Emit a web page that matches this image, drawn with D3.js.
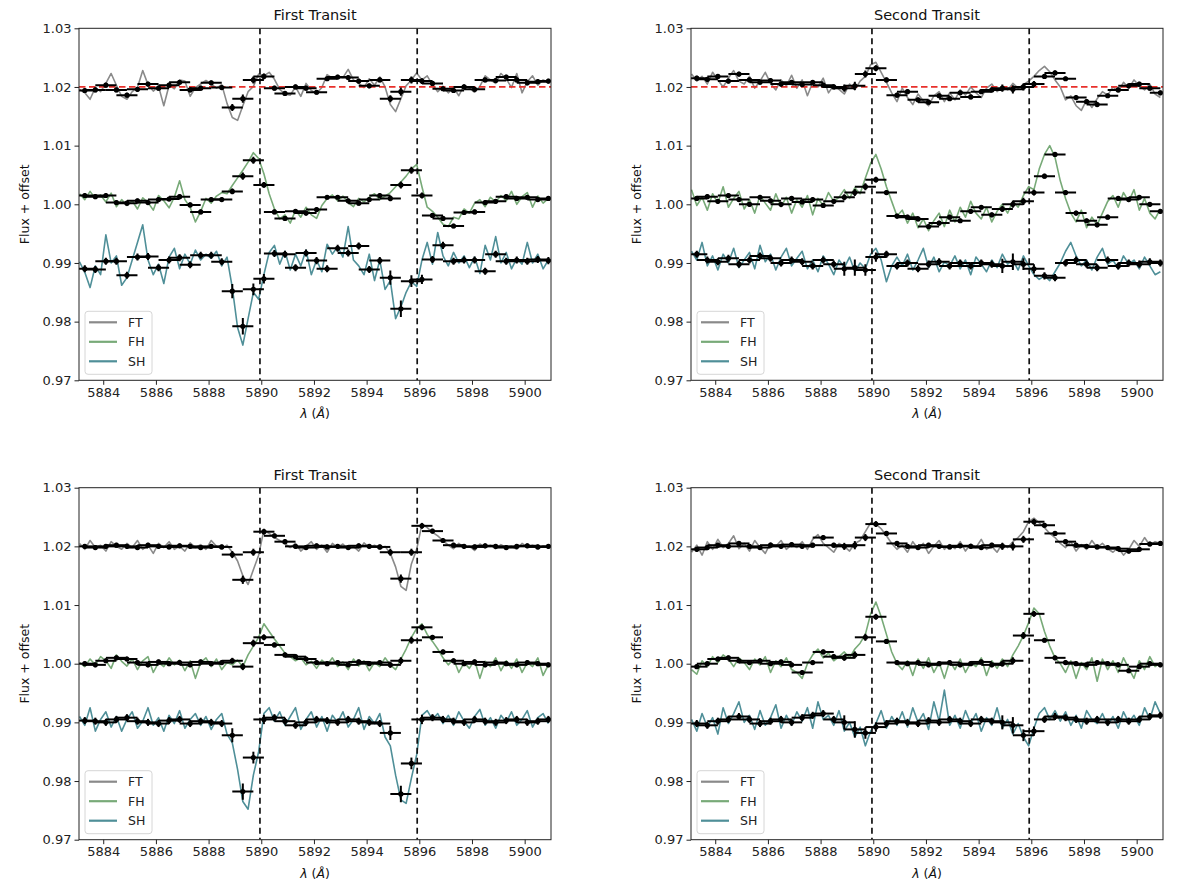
<!DOCTYPE html>
<html><head><meta charset="utf-8">
<script src="https://cdn.jsdelivr.net/npm/d3@7"></script>
<style>body{margin:0;background:#fff}svg{display:block;font-family:"DejaVu Sans",sans-serif}</style>
</head><body><svg id="c" width="1179" height="885"></svg>
<script>
// ---------- data ----------
const seriesNames = ["FT", "FH", "SH"];
const panelTitles = ["First Transit", "Second Transit", "First Transit", "Second Transit"];
const xTicks = [5884, 5886, 5888, 5890, 5892, 5894, 5896, 5898, 5900];
const yTicks = [0.97, 0.98, 0.99, 1.00, 1.01, 1.02, 1.03];
const naLines = [5889.95, 5895.92];
const refLevel = 1.02;
const specStart = 5883.1, specStep = 0.2;   // spectrum sampling grid
const binStart = 5883.3, binStep = 0.4, binHalf = 0.4;

// Panel 1: First Transit (top)
const p1FT = [1.0196,1.0190,1.0179,1.0199,1.0192,1.0206,1.0223,1.0203,1.0184,1.0179,
1.0192,1.0199,1.0228,1.0204,1.0193,1.0201,1.0168,1.0203,1.0197,1.0212,
1.0210,1.0184,1.0199,1.0205,1.0211,1.0205,1.0198,1.0204,1.0172,1.0148,
1.0143,1.0168,1.0192,1.0201,1.0222,1.0219,1.0225,1.0213,1.0196,1.0188,
1.0186,1.0200,1.0184,1.0206,1.0194,1.0189,1.0199,1.0221,1.0215,1.0218,
1.0216,1.0230,1.0212,1.0206,1.0199,1.0214,1.0203,1.0217,1.0200,1.0170,
1.0158,1.0180,1.0202,1.0212,1.0224,1.0212,1.0219,1.0204,1.0192,1.0201,
1.0190,1.0199,1.0185,1.0203,1.0198,1.0191,1.0201,1.0219,1.0212,1.0206,
1.0223,1.0214,1.0199,1.0223,1.0190,1.0209,1.0219,1.0203,1.0212,1.0208];
const p1FH = [1.0018,1.0008,1.0022,1.0010,1.0016,1.0004,1.0019,0.9996,1.0008,0.9998,
1.0006,0.9992,1.0011,1.0003,0.9990,1.0015,1.0006,0.9994,1.0012,1.0040,
1.0008,0.9995,0.9970,0.9988,1.0010,1.0002,1.0014,1.0020,1.0018,1.0032,
1.0045,1.0058,1.0072,1.0088,1.0078,1.0052,1.0018,0.9992,0.9975,0.9982,
0.9968,0.9990,0.9978,0.9995,0.9982,0.9976,0.9998,1.0010,1.0016,1.0006,
1.0014,1.0003,0.9996,1.0010,1.0004,1.0012,1.0018,1.0008,1.0014,1.0020,
1.0030,1.0038,1.0048,1.0060,1.0068,1.0030,0.9995,0.9988,0.9978,0.9966,
0.9962,0.9978,0.9975,0.9992,0.9985,1.0002,1.0008,0.9996,1.0012,1.0004,
1.0015,1.0006,1.0022,1.0000,1.0013,1.0020,0.9995,1.0014,1.0002,1.0010];
const p1SH = [0.9902,0.9884,0.9858,0.9895,0.9880,0.9948,0.9900,0.9912,0.9862,0.9875,
0.9905,0.9935,0.9965,0.9905,0.9880,0.9898,0.9865,0.9910,0.9925,0.9890,
0.9915,0.9898,0.9922,0.9905,0.9915,0.9908,0.9920,0.9895,0.9910,0.9858,
0.9790,0.9760,0.9805,0.9850,0.9838,0.9880,0.9918,0.9930,0.9898,0.9920,
0.9888,0.9915,0.9895,0.9922,0.9880,0.9905,0.9885,0.9932,0.9915,0.9928,
0.9910,0.9962,0.9905,0.9895,0.9880,0.9915,0.9870,0.9905,0.9855,0.9870,
0.9805,0.9825,0.9850,0.9868,0.9860,0.9905,0.9935,0.9898,0.9952,0.9912,
0.9895,0.9918,0.9900,0.9912,0.9892,0.9910,0.9882,0.9930,0.9905,0.9945,
0.9900,0.9918,0.9890,0.9908,0.9898,0.9935,0.9900,0.9915,0.9890,0.9905];
const p1FTbin = [1.0194,1.0195,1.0203,1.0195,1.0186,1.0196,1.0205,1.0198,1.0203,1.0208,
1.0195,1.0198,1.0207,1.0199,1.0165,1.0180,1.0212,1.0218,1.0198,1.0189,
1.0200,1.0198,1.0191,1.0214,1.0217,1.0216,1.0210,1.0202,1.0212,1.0180,
1.0192,1.0212,1.0210,1.0206,1.0197,1.0194,1.0200,1.0196,1.0212,1.0211,
1.0217,1.0212,1.0207,1.0209,1.0210];
const p1FHbin = [1.0015,1.0013,1.0015,1.0003,1.0002,1.0006,1.0003,1.0008,1.0009,1.0013,
0.9999,0.9987,1.0008,1.0008,1.0022,1.0048,1.0075,1.0033,0.9987,0.9976,
0.9988,0.9985,0.9991,1.0012,1.0012,1.0006,1.0002,1.0008,1.0015,1.0010,
1.0033,1.0058,1.0015,0.9981,0.9976,0.9963,0.9986,0.9987,1.0003,1.0005,
1.0013,1.0010,1.0012,1.0008,1.0010];
const p1SHbin = [0.9890,0.9889,0.9903,0.9903,0.9879,0.9910,0.9911,0.9892,0.9905,0.9909,
0.9897,0.9913,0.9913,0.9902,0.9852,0.9792,0.9855,0.9873,0.9916,0.9915,
0.9892,0.9917,0.9904,0.9890,0.9925,0.9917,0.9929,0.9889,0.9904,0.9875,
0.9822,0.9869,0.9872,0.9906,0.9930,0.9903,0.9905,0.9905,0.9886,0.9915,
0.9903,0.9905,0.9903,0.9906,0.9904];

// Panel 2: Second Transit (top)
const p2FT = [1.0222,1.0210,1.0218,1.0205,1.0225,1.0212,1.0200,1.0215,1.0228,1.0210,
1.0205,1.0218,1.0198,1.0210,1.0225,1.0206,1.0195,1.0212,1.0202,1.0220,
1.0198,1.0212,1.0185,1.0208,1.0200,1.0215,1.0190,1.0203,1.0196,1.0188,
1.0205,1.0195,1.0210,1.0218,1.0238,1.0242,1.0225,1.0208,1.0190,1.0175,
1.0198,1.0182,1.0170,1.0188,1.0176,1.0168,1.0185,1.0192,1.0175,1.0190,
1.0178,1.0195,1.0186,1.0200,1.0190,1.0182,1.0198,1.0205,1.0192,1.0200,
1.0195,1.0206,1.0198,1.0204,1.0210,1.0218,1.0228,1.0235,1.0226,1.0212,
1.0200,1.0178,1.0185,1.0168,1.0160,1.0178,1.0165,1.0180,1.0192,1.0186,
1.0200,1.0192,1.0208,1.0198,1.0212,1.0202,1.0195,1.0205,1.0188,1.0182];
const p2FH = [1.0025,0.9998,1.0012,0.9990,1.0018,1.0002,1.0030,0.9995,1.0010,1.0022,
0.9992,1.0008,0.9985,1.0015,1.0002,0.9990,1.0018,0.9996,1.0012,0.9985,
1.0008,0.9995,1.0015,0.9982,1.0010,0.9998,1.0020,1.0005,1.0012,1.0025,
1.0010,1.0028,1.0018,1.0045,1.0070,1.0085,1.0060,1.0030,1.0005,0.9980,
0.9990,0.9968,0.9985,0.9960,0.9975,0.9955,0.9972,0.9985,0.9962,0.9990,
0.9970,0.9995,0.9978,1.0005,0.9985,0.9975,0.9995,0.9970,0.9988,1.0000,
0.9985,1.0005,0.9995,1.0015,1.0030,1.0025,1.0060,1.0085,1.0100,1.0080,
1.0040,1.0010,0.9985,0.9970,0.9990,0.9960,0.9978,0.9965,0.9985,1.0005,
1.0015,0.9995,1.0020,1.0005,1.0025,0.9990,1.0010,0.9985,0.9975,0.9992];
const p2SH = [0.9920,0.9905,0.9935,0.9895,0.9912,0.9888,0.9915,0.9900,0.9925,0.9892,
0.9905,0.9918,0.9890,0.9930,0.9902,0.9915,0.9888,0.9910,0.9925,0.9895,
0.9908,0.9920,0.9890,0.9905,0.9885,0.9912,0.9898,0.9880,0.9905,0.9892,
0.9910,0.9885,0.9900,0.9890,0.9915,0.9925,0.9905,0.9868,0.9895,0.9910,
0.9895,0.9915,0.9888,0.9905,0.9925,0.9892,0.9910,0.9885,0.9902,0.9895,
0.9912,0.9890,0.9905,0.9880,0.9910,0.9898,0.9885,0.9905,0.9892,0.9915,
0.9898,0.9905,0.9888,0.9912,0.9895,0.9880,0.9872,0.9878,0.9870,0.9885,
0.9900,0.9920,0.9935,0.9912,0.9895,0.9905,0.9888,0.9910,0.9925,0.9898,
0.9905,0.9890,0.9912,0.9898,0.9905,0.9890,0.9910,0.9895,0.9880,0.9885];
const p2FTbin = [1.0215,1.0213,1.0218,1.0210,1.0222,1.0212,1.0208,1.0211,1.0205,1.0208,
1.0204,1.0208,1.0203,1.0200,1.0198,1.0202,1.0222,1.0232,1.0212,1.0186,
1.0192,1.0178,1.0174,1.0185,1.0180,1.0190,1.0183,1.0192,1.0195,1.0198,
1.0196,1.0200,1.0205,1.0218,1.0224,1.0214,1.0182,1.0175,1.0170,1.0185,
1.0195,1.0202,1.0205,1.0198,1.0190];
const p2FHbin = [1.0010,1.0013,1.0005,1.0015,1.0008,1.0000,1.0012,1.0006,1.0000,1.0010,
1.0004,1.0008,0.9998,1.0005,1.0012,1.0020,1.0030,1.0042,1.0020,0.9980,
0.9978,0.9975,0.9962,0.9968,0.9978,0.9972,0.9988,0.9995,0.9982,0.9992,
1.0000,1.0005,1.0020,1.0048,1.0085,1.0020,0.9985,0.9972,0.9965,0.9978,
1.0010,1.0008,1.0012,1.0000,0.9988];
const p2SHbin = [0.9915,0.9905,0.9902,0.9908,0.9898,0.9905,0.9912,0.9908,0.9900,0.9905,
0.9902,0.9895,0.9905,0.9898,0.9890,0.9892,0.9888,0.9910,0.9915,0.9895,
0.9900,0.9890,0.9898,0.9902,0.9895,0.9900,0.9895,0.9900,0.9898,0.9895,
0.9902,0.9898,0.9890,0.9878,0.9875,0.9900,0.9905,0.9898,0.9892,0.9905,
0.9895,0.9900,0.9898,0.9902,0.9900];

// Panel 3: First Transit (bottom)
const p3FT = [1.0205,1.0195,1.0210,1.0198,1.0202,1.0192,1.0208,1.0200,1.0195,1.0205,
1.0198,1.0210,1.0195,1.0202,1.0188,1.0205,1.0198,1.0208,1.0195,1.0200,
1.0192,1.0206,1.0198,1.0203,1.0195,1.0210,1.0200,1.0196,1.0202,1.0190,
1.0175,1.0150,1.0135,1.0160,1.0185,1.0228,1.0222,1.0215,1.0210,1.0204,
1.0198,1.0205,1.0192,1.0200,1.0208,1.0195,1.0202,1.0190,1.0205,1.0198,
1.0204,1.0195,1.0200,1.0192,1.0206,1.0198,1.0202,1.0195,1.0200,1.0188,
1.0165,1.0132,1.0125,1.0170,1.0195,1.0238,1.0232,1.0224,1.0218,1.0210,
1.0202,1.0196,1.0205,1.0198,1.0200,1.0193,1.0204,1.0198,1.0202,1.0196,
1.0203,1.0198,1.0200,1.0195,1.0205,1.0199,1.0202,1.0196,1.0201,1.0200];
const p3FH = [1.0002,0.9995,1.0008,0.9998,1.0012,1.0005,0.9992,1.0015,1.0004,0.9996,
1.0008,0.9990,1.0005,1.0012,0.9985,1.0002,0.9995,1.0010,0.9998,1.0006,
0.9988,1.0005,0.9975,1.0002,1.0010,0.9995,1.0008,0.9990,1.0002,0.9998,
1.0006,0.9995,1.0015,1.0030,1.0045,1.0068,1.0055,1.0042,1.0030,1.0018,
1.0012,1.0005,1.0010,0.9998,1.0004,0.9992,1.0006,0.9998,1.0010,0.9995,
1.0003,0.9990,1.0008,0.9996,1.0005,0.9988,1.0002,0.9995,1.0010,0.9998,
0.9990,1.0008,1.0025,1.0045,1.0060,1.0068,1.0050,1.0038,1.0025,1.0010,
0.9998,1.0008,0.9985,1.0002,0.9992,1.0006,0.9975,1.0004,0.9995,1.0010,
0.9988,1.0005,0.9992,1.0008,0.9985,1.0002,0.9995,1.0010,0.9980,0.9998];
const p3SH = [0.9910,0.9895,0.9925,0.9885,0.9905,0.9918,0.9892,0.9910,0.9885,0.9905,
0.9918,0.9890,0.9902,0.9925,0.9895,0.9908,0.9885,0.9912,0.9898,0.9920,
0.9890,0.9905,0.9915,0.9895,0.9910,0.9888,0.9905,0.9915,0.9880,0.9865,
0.9820,0.9765,0.9752,0.9810,0.9850,0.9915,0.9925,0.9902,0.9918,0.9895,
0.9910,0.9925,0.9888,0.9905,0.9918,0.9892,0.9910,0.9885,0.9912,0.9900,
0.9918,0.9892,0.9905,0.9925,0.9888,0.9910,0.9898,0.9915,0.9875,0.9860,
0.9810,0.9768,0.9762,0.9805,0.9845,0.9912,0.9920,0.9905,0.9915,0.9898,
0.9912,0.9895,0.9918,0.9902,0.9890,0.9910,0.9922,0.9895,0.9908,0.9890,
0.9912,0.9900,0.9918,0.9895,0.9905,0.9920,0.9892,0.9908,0.9915,0.9898];
const p3FTbin = [1.0200,1.0198,1.0200,1.0202,1.0200,1.0198,1.0202,1.0200,1.0199,1.0201,
1.0200,1.0198,1.0200,1.0199,1.0186,1.0143,1.0190,1.0225,1.0218,1.0208,
1.0200,1.0198,1.0201,1.0199,1.0200,1.0198,1.0201,1.0200,1.0199,1.0190,
1.0145,1.0190,1.0235,1.0226,1.0210,1.0202,1.0200,1.0199,1.0201,1.0200,
1.0198,1.0200,1.0201,1.0199,1.0200];
const p3FHbin = [1.0000,0.9998,1.0005,1.0010,1.0008,1.0002,0.9998,1.0003,1.0000,1.0002,
0.9998,1.0003,1.0000,1.0002,1.0005,0.9995,1.0035,1.0045,1.0032,1.0015,
1.0012,1.0008,1.0002,1.0000,1.0002,0.9998,1.0003,1.0000,1.0002,0.9998,
1.0005,1.0040,1.0062,1.0045,1.0020,1.0005,1.0000,1.0003,0.9998,1.0002,
1.0000,0.9998,1.0002,1.0000,0.9998];
const p3SHbin = [0.9903,0.9902,0.9900,0.9905,0.9908,0.9902,0.9900,0.9898,0.9903,0.9905,
0.9898,0.9902,0.9900,0.9898,0.9878,0.9782,0.9840,0.9905,0.9908,0.9902,
0.9895,0.9900,0.9905,0.9903,0.9900,0.9905,0.9902,0.9900,0.9898,0.9882,
0.9778,0.9830,0.9905,0.9908,0.9905,0.9902,0.9900,0.9905,0.9902,0.9900,
0.9903,0.9905,0.9900,0.9902,0.9905];

// Panel 4: Second Transit (bottom)
const p4FT = [1.0190,1.0202,1.0185,1.0208,1.0195,1.0212,1.0198,1.0205,1.0218,1.0196,
1.0205,1.0192,1.0210,1.0198,1.0188,1.0206,1.0200,1.0210,1.0195,1.0203,
1.0198,1.0208,1.0195,1.0212,1.0220,1.0205,1.0198,1.0190,1.0205,1.0200,
1.0192,1.0205,1.0210,1.0225,1.0240,1.0238,1.0230,1.0218,1.0205,1.0195,
1.0202,1.0190,1.0208,1.0196,1.0205,1.0188,1.0200,1.0210,1.0195,1.0203,
1.0196,1.0208,1.0192,1.0204,1.0198,1.0212,1.0195,1.0200,1.0190,1.0205,
1.0198,1.0208,1.0215,1.0225,1.0242,1.0248,1.0240,1.0232,1.0222,1.0215,
1.0205,1.0198,1.0208,1.0192,1.0203,1.0195,1.0210,1.0198,1.0205,1.0196,
1.0190,1.0198,1.0185,1.0195,1.0210,1.0200,1.0215,1.0202,1.0208,1.0205];
const p4FH = [0.9990,0.9982,1.0005,0.9995,1.0012,1.0002,1.0015,1.0008,0.9995,1.0010,
1.0002,0.9990,1.0008,0.9998,1.0012,0.9985,1.0005,0.9995,1.0010,0.9990,
0.9985,0.9975,1.0000,1.0015,1.0025,1.0010,1.0018,1.0005,1.0012,1.0020,
1.0010,1.0025,1.0035,1.0050,1.0085,1.0105,1.0080,1.0050,1.0020,1.0000,
0.9990,1.0005,0.9980,1.0008,0.9992,1.0010,0.9985,1.0002,0.9975,1.0005,
0.9990,1.0008,0.9985,1.0002,0.9995,1.0010,0.9980,1.0005,0.9992,1.0008,
0.9995,1.0015,1.0030,1.0048,1.0070,1.0095,1.0085,1.0055,1.0030,1.0010,
1.0000,0.9985,1.0005,0.9975,1.0002,0.9990,1.0010,0.9970,1.0008,0.9990,
1.0005,0.9985,1.0010,0.9992,0.9975,1.0005,0.9990,1.0012,0.9995,1.0002];
const p4SH = [0.9905,0.9885,0.9915,0.9892,0.9908,0.9880,0.9925,0.9898,0.9915,0.9935,
0.9900,0.9912,0.9888,0.9920,0.9895,0.9908,0.9930,0.9890,0.9912,0.9895,
0.9918,0.9902,0.9925,0.9890,0.9935,0.9905,0.9912,0.9895,0.9920,0.9885,
0.9900,0.9875,0.9892,0.9860,0.9885,0.9898,0.9920,0.9890,0.9910,0.9895,
0.9918,0.9892,0.9925,0.9900,0.9915,0.9888,0.9935,0.9902,0.9955,0.9895,
0.9912,0.9890,0.9920,0.9898,0.9915,0.9885,0.9908,0.9895,0.9925,0.9890,
0.9905,0.9880,0.9898,0.9875,0.9860,0.9890,0.9915,0.9925,0.9905,0.9920,
0.9902,0.9918,0.9895,0.9912,0.9890,0.9920,0.9905,0.9898,0.9915,0.9895,
0.9910,0.9890,0.9918,0.9900,0.9912,0.9895,0.9925,0.9905,0.9935,0.9915];
const p4FTbin = [1.0195,1.0198,1.0202,1.0200,1.0205,1.0200,1.0198,1.0202,1.0200,1.0203,
1.0200,1.0202,1.0215,1.0202,1.0200,1.0202,1.0215,1.0238,1.0222,1.0205,
1.0200,1.0198,1.0202,1.0200,1.0199,1.0201,1.0200,1.0198,1.0202,1.0200,
1.0200,1.0212,1.0242,1.0236,1.0222,1.0208,1.0202,1.0200,1.0199,1.0198,
1.0196,1.0192,1.0195,1.0204,1.0205];
const p4FHbin = [0.9995,1.0000,1.0008,1.0010,1.0005,1.0002,1.0005,1.0000,1.0003,0.9998,
0.9985,1.0002,1.0020,1.0012,1.0010,1.0015,1.0045,1.0080,1.0038,1.0002,
1.0000,1.0002,0.9998,1.0000,1.0002,0.9998,1.0000,1.0003,0.9998,1.0000,
1.0005,1.0048,1.0085,1.0040,1.0010,1.0002,1.0000,0.9998,1.0002,1.0000,
0.9998,0.9988,0.9995,1.0000,0.9998];
const p4SHbin = [0.9898,0.9895,0.9902,0.9905,0.9910,0.9905,0.9898,0.9902,0.9905,0.9900,
0.9908,0.9912,0.9915,0.9905,0.9900,0.9888,0.9882,0.9892,0.9898,0.9902,
0.9900,0.9898,0.9903,0.9900,0.9905,0.9902,0.9898,0.9905,0.9902,0.9900,
0.9895,0.9878,0.9885,0.9905,0.9910,0.9908,0.9905,0.9902,0.9905,0.9900,
0.9905,0.9902,0.9905,0.9910,0.9912];

// typical vertical uncertainties of the binned points
const errFT = [4,4,4,4,4,4,4,4,4,4,4,4,4,4,6,7,6,5,4,4,4,4,4,4,4,4,4,4,4,6,7,6,5,4,4,4,4,4,4,4,4,4,4,4,4].map(v => v * 1e-4);
const errFH = [4,4,4,4,4,4,4,4,4,4,4,4,4,4,5,6,6,5,4,4,4,4,4,4,4,4,4,4,4,5,6,6,5,4,4,4,4,4,4,4,4,4,4,4,4].map(v => v * 1e-4);
const errSH = [6,6,6,6,6,6,6,6,6,6,6,6,6,6,12,14,10,8,6,6,6,6,6,6,6,6,6,6,6,12,14,10,8,6,6,6,6,6,6,6,6,6,6,6,6].map(v => v * 1e-4);

// ---------- layout / style ----------
const colors = { FT: "#8a8a8a", FH: "#78aa78", SH: "#4f8f98" };
const panels = [
  { left: 79, top: 28.3, title: panelTitles[0], red: true, FT: p1FT, FH: p1FH, SH: p1SH, FTb: p1FTbin, FHb: p1FHbin, SHb: p1SHbin },
  { left: 691, top: 28.3, title: panelTitles[1], red: true, FT: p2FT, FH: p2FH, SH: p2SH, FTb: p2FTbin, FHb: p2FHbin, SHb: p2SHbin },
  { left: 79, top: 487.7, title: panelTitles[2], red: false, FT: p3FT, FH: p3FH, SH: p3SH, FTb: p3FTbin, FHb: p3FHbin, SHb: p3SHbin },
  { left: 691, top: 487.7, title: panelTitles[3], red: false, FT: p4FT, FH: p4FH, SH: p4SH, FTb: p4FTbin, FHb: p4FHbin, SHb: p4SHbin }
];
const PW = 472, PH = 352;
const errs = { FT: errFT, FH: errFH, SH: errSH };

const svg = d3.select("#c");
panels.forEach((p, pi) => {
  const g = svg.append("g").attr("transform", `translate(${p.left},${p.top})`);
  const x = d3.scaleLinear().domain([5883.08, 5901]).range([0, PW]);
  const y = d3.scaleLinear().domain([0.97, 1.03]).range([PH, 0]);
  const cid = "clip" + pi;
  g.append("clipPath").attr("id", cid).append("rect").attr("width", PW).attr("height", PH);
  const plot = g.append("g").attr("clip-path", `url(#${cid})`);

  seriesNames.forEach(s => {
    const vals = p[s];
    const line = d3.line().x((d, i) => x(specStart + specStep * i)).y(d => y(d));
    plot.append("path").datum(vals).attr("d", line)
      .attr("fill", "none").attr("stroke", colors[s]).attr("stroke-width", 1.6).attr("stroke-linejoin", "round");
  });
  if (p.red) {
    plot.append("line").attr("x1", 0).attr("x2", PW).attr("y1", y(refLevel)).attr("y2", y(refLevel))
      .attr("stroke", "#e8302b").attr("stroke-width", 1.8).attr("stroke-dasharray", "6.5,3.5");
  }
  naLines.forEach(w => {
    plot.append("line").attr("x1", x(w)).attr("x2", x(w)).attr("y1", 0).attr("y2", PH)
      .attr("stroke", "#111").attr("stroke-width", 1.7).attr("stroke-dasharray", "6,4");
  });
  seriesNames.forEach(s => {
    const bins = p[s + "b"];
    const e = errs[s];
    const bg = plot.append("g");
    bins.forEach((v, k) => {
      const c = binStart + binStep * k;
      bg.append("line").attr("x1", x(c - binHalf)).attr("x2", x(c + binHalf)).attr("y1", y(v)).attr("y2", y(v))
        .attr("stroke", "#000").attr("stroke-width", 2);
      bg.append("line").attr("x1", x(c)).attr("x2", x(c)).attr("y1", y(v - e[k])).attr("y2", y(v + e[k]))
        .attr("stroke", "#000").attr("stroke-width", 2);
      bg.append("circle").attr("cx", x(c)).attr("cy", y(v)).attr("r", 2.6).attr("fill", "#000");
    });
  });

  // axes
  const xa = g.append("g").attr("transform", `translate(0,${PH})`)
    .call(d3.axisBottom(x).tickValues(xTicks).tickFormat(d3.format("d")).tickSize(4.5).tickPadding(3));
  const ya = g.append("g").call(d3.axisLeft(y).tickValues(yTicks).tickFormat(d3.format(".2f")).tickSize(4.5).tickPadding(3));
  [xa, ya].forEach(a => {
    a.select(".domain").remove();
    a.selectAll("text").attr("font-size", 13).attr("fill", "#222").attr("font-family", "DejaVu Sans");
    a.selectAll("line").attr("stroke", "#222");
  });
  g.append("rect").attr("width", PW).attr("height", PH).attr("fill", "none").attr("stroke", "#222").attr("stroke-width", 1);

  g.append("text").attr("x", PW / 2).attr("y", -8).attr("text-anchor", "middle").attr("font-size", 14.5).attr("fill", "#111").text(p.title);
  g.append("text").attr("transform", `translate(-50,${PH / 2}) rotate(-90)`).attr("text-anchor", "middle")
    .attr("font-size", 12.5).attr("fill", "#111").text("Flux + offset");
  const xl = g.append("text").attr("x", PW / 2).attr("y", PH + 38).attr("text-anchor", "middle").attr("font-size", 12.5).attr("fill", "#111");
  xl.append("tspan").attr("font-style", "italic").text("λ");
  xl.append("tspan").text(" (");
  xl.append("tspan").attr("font-style", "italic").text("Å");
  xl.append("tspan").text(")");

  // legend
  const lg = g.append("g").attr("transform", `translate(6,${PH - 69})`);
  lg.append("rect").attr("width", 67).attr("height", 63).attr("rx", 3).attr("fill", "#fff").attr("fill-opacity", 0.85)
    .attr("stroke", "#d6d6d6");
  seriesNames.forEach((s, i) => {
    const yy = 11 + i * 19.5;
    lg.append("line").attr("x1", 4).attr("x2", 32).attr("y1", yy).attr("y2", yy).attr("stroke", colors[s]).attr("stroke-width", 2.2);
    lg.append("text").attr("x", 43).attr("y", yy + 4.5).attr("font-size", 12.5).attr("fill", "#222").text(s);
  });
});
</script></body></html>
